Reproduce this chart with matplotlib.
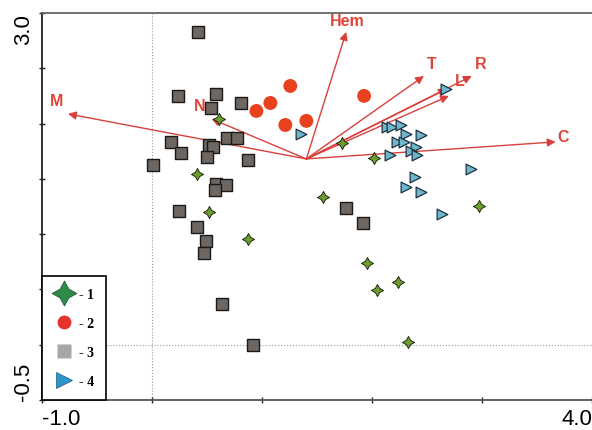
import matplotlib
matplotlib.use("Agg")
import matplotlib.pyplot as plt
from matplotlib.lines import Line2D

# group 1 - green four-point stars
g1_x = [0.605, 0.405, 0.514, 0.868, 1.729, 2.019, 1.557, 2.971, 1.956, 2.237, 2.046, 2.327]
g1_y = [2.042, 1.544, 1.201, 0.957, 1.825, 1.689, 1.336, 1.255, 0.740, 0.568, 0.495, 0.025]

# group 2 - red circles
g2_x = [1.257, 1.076, 0.949, 1.212, 1.403, 1.928]
g2_y = [2.340, 2.186, 2.114, 1.987, 2.024, 2.250]

# group 3 - grey squares
g3_x = [0.414, 0.233, 0.578, 0.813, 0.532, 0.170, 0.260, 0.006, 0.514, 0.550, 0.686, 0.768, 0.496,
        0.877, 0.578, 0.668, 0.568, 0.242, 0.405, 0.487, 0.469, 0.632, 0.922, 1.765, 1.919]
g3_y = [2.828, 2.250, 2.268, 2.186, 2.141, 1.834, 1.734, 1.626, 1.807, 1.789, 1.870, 1.870, 1.698,
        1.671, 1.454, 1.445, 1.400, 1.210, 1.065, 0.939, 0.830, 0.369, 0.000, 1.237, 1.101]

# group 4 - blue triangles
g4_x = [1.357, 2.137, 2.182, 2.264, 2.309, 2.445, 2.228, 2.291, 2.400, 2.354, 2.409, 2.164,
        2.672, 2.898, 2.391, 2.309, 2.445, 2.636]
g4_y = [1.906, 1.969, 1.969, 1.987, 1.906, 1.897, 1.834, 1.834, 1.788, 1.752, 1.716, 1.716,
        2.313, 1.590, 1.517, 1.427, 1.382, 1.183]

# variable vectors (biplot arrows)
origin = (1.403, 1.680)
vec_names = ["M", "N", "Hem", "T", "R", "L", "", "C"]
vec_x = [-0.764, 0.541, 1.765, 2.472, 2.907, 2.699, 2.681, 3.669]
vec_y = [2.087, 2.042, 2.828, 2.430, 2.430, 2.250, 2.313, 1.834]
lab_x = [-0.864, 0.432, 1.774, 2.545, 2.989, 2.799, None, 3.742]
lab_y = [2.204, 2.159, 2.928, 2.539, 2.539, 2.385, None, 1.879]

RED = "#E0453A"
ARROW = "#D9403C"

fig = plt.figure(figsize=(5.92, 4.31), dpi=100)
ax = fig.add_axes([0.071, 0.0696, 0.929, 0.898])
ax.set_xlim(-1.0, 4.0)
ax.set_ylim(-0.5, 3.0)

ax.axvline(0, color="#9a9a9a", ls=":", lw=0.8, zorder=0)
ax.axhline(0, color="#9a9a9a", ls=":", lw=0.8, zorder=0)

ax.scatter(g3_x, g3_y, marker="s", s=85, c="#6E6661", edgecolors="#1a1a1a", linewidths=1.0, zorder=3)
ax.scatter(g2_x, g2_y, marker="o", s=100, c="#E8411D", edgecolors="none", zorder=3)
ax.scatter(g4_x, g4_y, marker=">", s=60, c="#6DB7CC", edgecolors="#203040", linewidths=0.9, zorder=3)
ax.scatter(g1_x, g1_y, marker=(4, 1, 0), s=75, c="#6E9E2E", edgecolors="#1f2a10", linewidths=0.7, zorder=4)

for name, tx, ty, lx, ly in zip(vec_names, vec_x, vec_y, lab_x, lab_y):
    ax.annotate("", xy=(tx, ty), xytext=origin,
                arrowprops=dict(arrowstyle="-|>", color=ARROW, lw=1.0,
                                mutation_scale=12, shrinkA=0, shrinkB=0),
                zorder=2)
    if name:
        ax.text(lx, ly, name, color=RED, fontsize=11.5, fontweight="bold",
                ha="center", va="center", family="Liberation Sans")

# axes frame
ax.spines["right"].set_visible(False)
ax.spines["top"].set_color("#666666")
ax.spines["top"].set_linewidth(1.3)
ax.spines["left"].set_color("#222222")
ax.spines["left"].set_linewidth(1.3)
ax.spines["bottom"].set_color("#555555")
ax.spines["bottom"].set_linewidth(1.3)

ax.set_xticks([-1, 0, 1, 2, 3, 4])
ax.set_xticklabels(["-1.0", "", "", "", "", "4.0"])
ax.set_yticks([-0.5, 0, 0.5, 1.0, 1.5, 2.0, 2.5, 3.0])
ax.set_yticklabels(["-0.5", "", "", "", "", "", "", "3.0"])
ax.tick_params(direction="inout", length=5, width=1, color="#222222", labelsize=16, pad=3)
for t in ax.get_xticklabels():
    t.set_family("Liberation Sans")
ax.get_xticklabels()[0].set_ha("left")
ax.get_xticklabels()[-1].set_ha("right")
for t in ax.get_yticklabels():
    t.set_family("Liberation Sans")
    t.set_rotation(90)
ax.get_yticklabels()[0].set_va("bottom")
ax.get_yticklabels()[-1].set_va("top")

handles = [
    Line2D([], [], ls="none", marker=(4, 1, 0), ms=18, mfc="#2E8B4A", mec="#1a4a2a", mew=0.5),
    Line2D([], [], ls="none", marker="o", ms=10, mfc="#E5322A", mec="none"),
    Line2D([], [], ls="none", marker="s", ms=10, mfc="#A6A6A6", mec="none"),
    Line2D([], [], ls="none", marker=">", ms=11, mfc="#2E96C8", mec="#1a5a80", mew=0.5),
]
leg = ax.legend(handles, ["- 1", "- 2", "- 3", "- 4"], loc="lower left", borderaxespad=0,
                fancybox=False, framealpha=1, edgecolor="black", handlelength=1.5,
                handletextpad=0.3, labelspacing=1.15, borderpad=0.85,
                prop={"family": "Liberation Serif", "weight": "bold", "size": 10})
leg.get_frame().set_linewidth(1.2)
leg.set_zorder(5)

fig.savefig("out.png", dpi=100)
